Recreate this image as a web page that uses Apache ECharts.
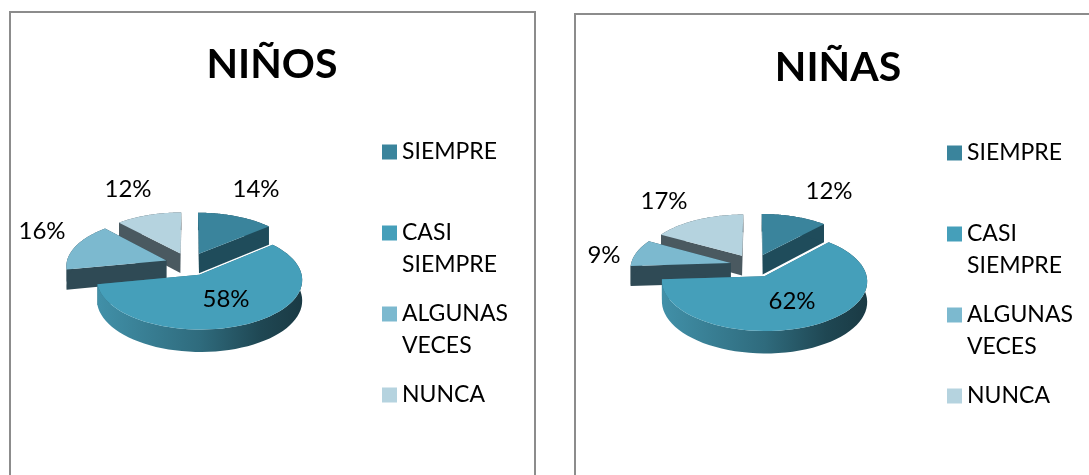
<!DOCTYPE html>
<html>
<head>
<meta charset="utf-8">
<style>
  html, body { margin: 0; padding: 0; background: #fff; }
  #main { width: 1089px; height: 475px; }
</style>
<script src="https://cdn.jsdelivr.net/npm/echarts@6/dist/echarts.min.js"></script>
</head>
<body>
<div id="main"></div>
<script>
const categories = ['SIEMPRE', 'CASI SIEMPRE', 'ALGUNAS VECES', 'NUNCA']
const valuesNinos = [14, 58, 16, 12]
const valuesNinas = [12, 62, 9, 17]

const topColors = ['#3a849c', '#459fba', '#7cb9cf', '#b5d3df']
const wallColors = ['#1f4c5b', '#2f6b7d', '#2f4a55', '#4a5960']
const FONT = 'Lato'

// the back slices have to be painted first
const drawOrder = [3, 0, 2, 1]

const pies = [
  {
    title: 'NIÑOS', values: valuesNinos, cx: 189, cy: 264, titleX: 267, titleY: 39,
    legendX: 382, legendY: 104,
    labels: [[256, 189], [226, 299], [42, 231], [128, 189]]
  },
  {
    title: 'NIÑAS', values: valuesNinas, cx: 754, cy: 265.5, titleX: 833, titleY: 42,
    legendX: 947, legendY: 105,
    labels: [[829, 191], [792, 301], [604, 255], [664, 201]]
  }
]

// fake 3d: a tilted circle, the front is drawn a bit bigger than the back
const RX = 100, RY = 48, DEPTH = 20, PERSPECTIVE = 0.1, EXPLODE = 0.24

function project(pie, ux, uy, drop) {
  const s = 1 + PERSPECTIVE * uy
  return [pie.cx + RX * ux * s, pie.cy + RY * uy * s + drop * s]
}

function sliceChildren(pie, index) {
  const total = pie.values.reduce((a, b) => a + b, 0)
  let before = 0
  for (let i = 0; i < index; i++) before += pie.values[i]
  const start = before / total * Math.PI * 2
  const end = (before + pie.values[index]) / total * Math.PI * 2
  const mid = (start + end) / 2
  const ex = EXPLODE * Math.sin(mid)
  const ey = -EXPLODE * Math.cos(mid)

  const apex = drop => project(pie, ex, ey, drop)
  const rim = (t, drop) => project(pie, ex + Math.sin(t), ey - Math.cos(t), drop)

  const arcTop = [], arcBottom = []
  const steps = 60
  for (let i = 0; i <= steps; i++) {
    const t = start + (end - start) * i / steps
    arcTop.push(rim(t, 0))
    arcBottom.push(rim(t, DEPTH))
  }

  const rimFill = index === 1
    ? new echarts.graphic.LinearGradient(0, 0, 1, 0, [
        { offset: 0, color: '#4190a8' },
        { offset: 0.5, color: '#2f6b7d' },
        { offset: 0.8, color: '#1f4753' },
        { offset: 1, color: '#1a3a44' }
      ])
    : wallColors[index]

  const poly = (points, fill) => ({
    type: 'polygon',
    shape: { points: points },
    style: { fill: fill }
  })

  return [
    poly([apex(0), rim(start, 0), rim(start, DEPTH), apex(DEPTH)], wallColors[index]),
    poly([apex(0), rim(end, 0), rim(end, DEPTH), apex(DEPTH)], wallColors[index]),
    poly(arcTop.concat(arcBottom.slice().reverse()), rimFill),
    poly([apex(0)].concat(arcTop), topColors[index]),
    {
      type: 'text',
      style: {
        x: pie.labels[index][0],
        y: pie.labels[index][1],
        text: pie.values[index] + '%',
        fill: '#000',
        font: '24px ' + FONT,
        align: 'center',
        verticalAlign: 'middle'
      }
    }
  ]
}

const series = []
pies.forEach(pie => {
  drawOrder.forEach((index, order) => {
    series.push({
      type: 'custom',
      name: categories[index],
      coordinateSystem: 'none',
      silent: true,
      z: 2 + order,
      itemStyle: { color: topColors[index] },
      data: [[pie.values[index]]],
      renderItem: () => ({ type: 'group', children: sliceChildren(pie, index) })
    })
  })
})

// every entry gets three lines so the icon sits on the first word and the rows stay even
function legendText(name) {
  const words = name.split(' ')
  return [' ', words[0], words[1] || ' '].join('\n')
}

const chart = echarts.init(document.getElementById('main'), null, { renderer: 'canvas' })
chart.setOption({
  animation: false,
  backgroundColor: '#fff',
  title: pies.map(pie => ({
    text: pie.title,
    left: pie.titleX,
    top: pie.titleY,
    textAlign: 'center',
    textStyle: { color: '#000', fontFamily: FONT, fontWeight: 'bold', fontSize: 41 }
  })),
  legend: pies.map(pie => ({
    data: categories,
    orient: 'vertical',
    left: pie.legendX,
    top: pie.legendY,
    padding: 0,
    icon: 'rect',
    itemWidth: 15,
    itemHeight: 15,
    itemGap: -15,
    selectedMode: false,
    formatter: legendText,
    textStyle: { color: '#000', fontFamily: FONT, fontSize: 23, lineHeight: 32 }
  })),
  graphic: [
    {
      type: 'rect', z: 0, silent: true,
      shape: { x: 10, y: 12, width: 525, height: 520 },
      style: { fill: 'none', stroke: '#8c8c8c', lineWidth: 2 }
    },
    {
      type: 'rect', z: 0, silent: true,
      shape: { x: 575, y: 14, width: 525, height: 520 },
      style: { fill: 'none', stroke: '#8c8c8c', lineWidth: 2 }
    }
  ],
  series: series
})
</script>
</body>
</html>
